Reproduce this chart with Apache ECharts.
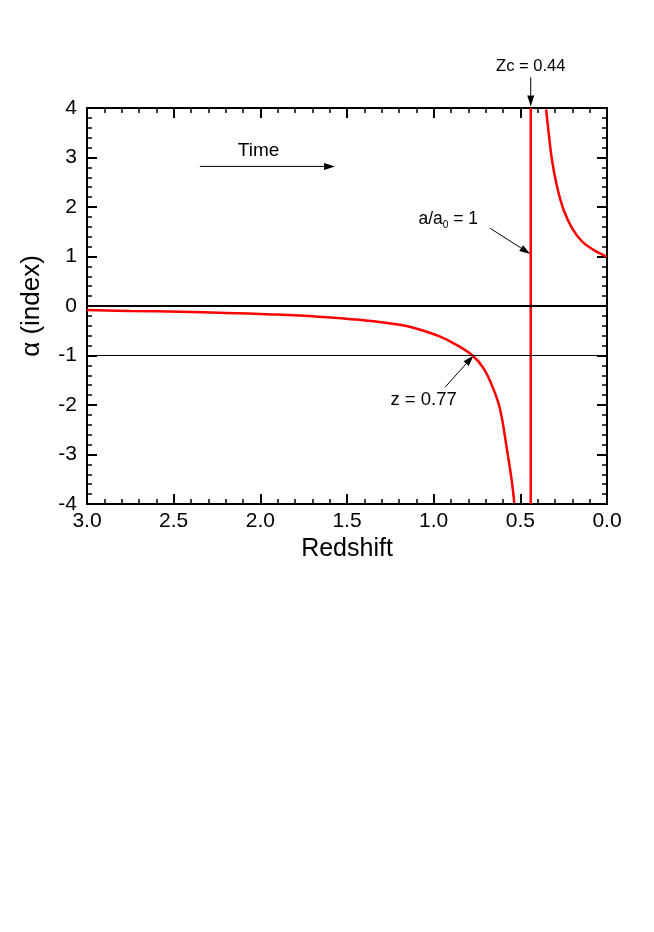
<!DOCTYPE html>
<html>
<head>
<meta charset="utf-8">
<style>
  html, body { margin: 0; padding: 0; background: #fff; }
  #main { width: 654px; height: 932px; }
</style>
<script src="https://cdn.jsdelivr.net/npm/echarts@6/dist/echarts.min.js"></script>
</head>
<body>
<div id="main"></div>
<script>
// values (redshift z, index alpha)
const leftZ = [3.0, 2.75, 2.46, 2.2, 1.935, 1.666, 1.425, 1.194, 1.078, 0.962, 0.866, 0.779, 0.712, 0.654, 0.616, 0.577, 0.548, 0.535]
const leftA = [-0.08, -0.10, -0.115, -0.14, -0.17, -0.215, -0.28, -0.38, -0.48, -0.62, -0.79, -0.99, -1.26, -1.69, -2.1, -2.90, -3.57, -3.98]
const rightZ = [0.351, 0.336, 0.317, 0.288, 0.250, 0.201, 0.143, 0.076, 0.009, 0.0]
const rightA = [3.97, 3.48, 2.94, 2.41, 1.94, 1.57, 1.30, 1.13, 1.01, 1.0]
const zcZ = [0.44, 0.44]
const zcA = [-4, 4]
const refLines = [0, -1]

const font = "'Liberation Sans', Arial, sans-serif"
let pairs = (xs, ys) => xs.map((x, i) => [x, ys[i]])

let chart = echarts.init(document.getElementById('main'), null, { renderer: 'canvas' })

// 坐标轴公共样式
function axis(extra) {
    return Object.assign({
        type: 'value',
        axisLine: { show: true, onZero: false, lineStyle: { color: '#000', width: 2 } },
        axisTick: { show: true, inside: true, length: 10, lineStyle: { color: '#000', width: 2 } },
        minorTick: { show: true, splitNumber: 5, length: 5, lineStyle: { color: '#000', width: 1.5 } },
        splitLine: { show: false },
        axisLabel: { color: '#000', fontSize: 21, fontFamily: font }
    }, extra)
}

chart.setOption({
    animation: false,
    grid: { left: 87, right: 47, top: 108, bottom: 428 },
    xAxis: [
        axis({ min: 0, max: 3, interval: 0.5, inverse: true, position: 'bottom',
            name: 'Redshift', nameLocation: 'middle', nameGap: 33,
            nameTextStyle: { color: '#000', fontSize: 25, fontFamily: font },
            axisLabel: { color: '#000', fontSize: 21, fontFamily: font, margin: 7, formatter: v => v.toFixed(1) } }),
        axis({ min: 0, max: 3, interval: 0.5, inverse: true, position: 'top', axisLabel: { show: false } })
    ],
    yAxis: [
        axis({ min: -4, max: 4, interval: 1, position: 'left',
            name: 'α (index)', nameLocation: 'middle', nameGap: 42,
            nameTextStyle: { color: '#000', fontSize: 26, fontFamily: font },
            axisLabel: { color: '#000', fontSize: 21, fontFamily: font, margin: 10 } }),
        axis({ min: -4, max: 4, interval: 1, position: 'right', axisLabel: { show: false } })
    ],
    series: [
        {
            type: 'line', data: [], silent: true,
            markLine: {
                symbol: 'none', silent: true, label: { show: false },
                data: refLines.map((v, i) => ({ yAxis: v, lineStyle: { color: '#000', type: 'solid', width: i === 0 ? 2 : 1 } }))
            }
        },
        { type: 'line', data: pairs(leftZ, leftA), showSymbol: false, smooth: 0.4,
          lineStyle: { color: '#ff0000', width: 2.5 }, clip: true },
        { type: 'line', data: pairs(zcZ, zcA), showSymbol: false,
          lineStyle: { color: '#ff0000', width: 2.5 }, clip: true },
        { type: 'line', data: pairs(rightZ, rightA), showSymbol: false, smooth: 0.4,
          lineStyle: { color: '#ff0000', width: 2.5 }, clip: true }
    ]
})

// 注释箭头和文字
let px = (z, a) => chart.convertToPixel({ xAxisIndex: 0, yAxisIndex: 0 }, [z, a])

function arrow(from, to, head) {
    let p1 = px(from[0], from[1]), p2 = px(to[0], to[1])
    let ang = Math.atan2(p2[1] - p1[1], p2[0] - p1[0])
    let len = head || 11, w = 3.5
    let bx = p2[0] - len * Math.cos(ang), by = p2[1] - len * Math.sin(ang)
    let nx = -Math.sin(ang) * w, ny = Math.cos(ang) * w
    return [
        { type: 'line', shape: { x1: p1[0], y1: p1[1], x2: bx, y2: by }, style: { stroke: '#000', lineWidth: 1 } },
        { type: 'polygon', shape: { points: [[p2[0], p2[1]], [bx + nx, by + ny], [bx - nx, by - ny]] }, style: { fill: '#000' } }
    ]
}

function label(z, a, text, size) {
    let p = px(z, a)
    return {
        type: 'text', x: p[0], y: p[1],
        style: {
            text: text, fill: '#000', font: size + 'px ' + font, align: 'center', verticalAlign: 'middle',
            rich: { sub: { fontSize: 10, fontFamily: font, fill: '#000', padding: [12, 0, 0, 0] } }
        }
    }
}

let elements = []
    .concat(arrow([0.44, 4.62], [0.44, 4.03]))
    .concat(arrow([0.674, 1.57], [0.442, 1.05]))
    .concat(arrow([0.934, -1.64], [0.77, -1.0]))
    .concat(arrow([2.349, 2.82], [1.569, 2.82]))
elements.push(label(0.44, 4.84, 'Zc = 0.44', 16.5))
elements.push(label(0.916, 1.75, 'a/a{sub|0} = 1', 17.5))
elements.push(label(1.058, -1.9, 'z = 0.77', 18.5))
elements.push(label(2.01, 3.13, 'Time', 19))

chart.setOption({ graphic: { elements: elements } })
</script>
</body>
</html>
